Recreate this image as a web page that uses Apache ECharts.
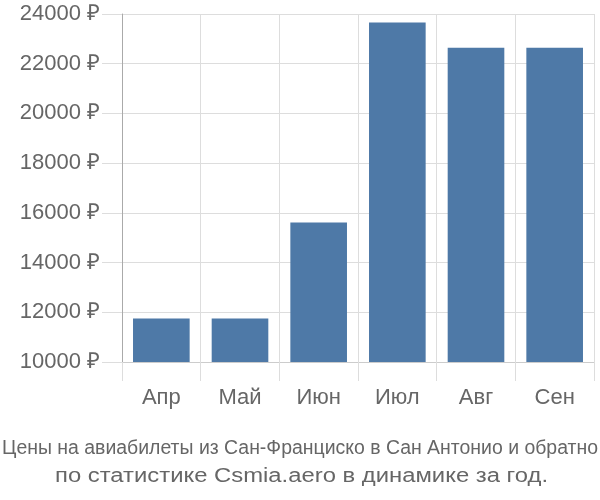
<!DOCTYPE html>
<html><head><meta charset="utf-8">
<script src="https://cdn.jsdelivr.net/npm/echarts@6/dist/echarts.min.js"></script>
<style>html,body{margin:0;padding:0;background:#fff}#c{width:600px;height:500px}</style>
</head><body><div id="c"></div>
<script>
var categories = ['Апр', 'Май', 'Июн', 'Июл', 'Авг', 'Сен'];
var prices = [11750, 11750, 15610, 23660, 22640, 22640];
var yTicks = [10000, 12000, 14000, 16000, 18000, 20000, 22000, 24000];
var titleLine1 = 'Цены на авиабилеты из Сан-Франциско в Сан Антонио и обратно';
var titleLine2 = 'по статистике Csmia.aero в динамике за год.';

var titleFont = '20px "Liberation Sans"';
var ctx = document.createElement('canvas').getContext('2d');
ctx.font = titleFont;
var w1 = ctx.measureText(titleLine1).width;
var w2 = ctx.measureText(titleLine2).width;

var chart = echarts.init(document.getElementById('c'), null, {renderer: 'canvas'});
chart.setOption({
  animation: false,
  graphic: [
    {type: 'text', x: 300, y: 448, scaleX: 596 / w1,
     style: {text: titleLine1, font: titleFont, fill: '#666', align: 'center', verticalAlign: 'middle'}},
    {type: 'text', x: 301.5, y: 476, scaleX: 493 / w2,
     style: {text: titleLine2, font: titleFont, fill: '#666', align: 'center', verticalAlign: 'middle'}}
  ],
  grid: {left: 122, right: 6, top: 14, bottom: 138, containLabel: false},
  xAxis: {
    type: 'category', data: categories,
    axisLine: {show: true, lineStyle: {color: '#ccc', width: 1}},
    axisTick: {show: true, length: 19, lineStyle: {color: '#ddd'}},
    splitLine: {show: true, lineStyle: {color: '#ddd'}},
    axisLabel: {margin: 25, fontFamily: 'Liberation Sans', fontSize: 22, color: '#666'}
  },
  yAxis: {
    type: 'value', min: yTicks[0], max: yTicks[yTicks.length - 1], interval: 2000,
    axisLine: {show: true, lineStyle: {color: '#aaa', width: 1}},
    axisTick: {show: true, length: 20, lineStyle: {color: '#ddd'}},
    splitLine: {show: true, lineStyle: {color: '#ddd'}},
    axisLabel: {margin: 22, fontFamily: 'Liberation Sans', fontSize: 22, color: '#666',
      formatter: function (v) { return v + ' ₽'; }}
  },
  series: [{
    type: 'bar', data: prices, barWidth: '72%',
    itemStyle: {color: '#4e79a7'}
  }]
});
</script></body></html>
